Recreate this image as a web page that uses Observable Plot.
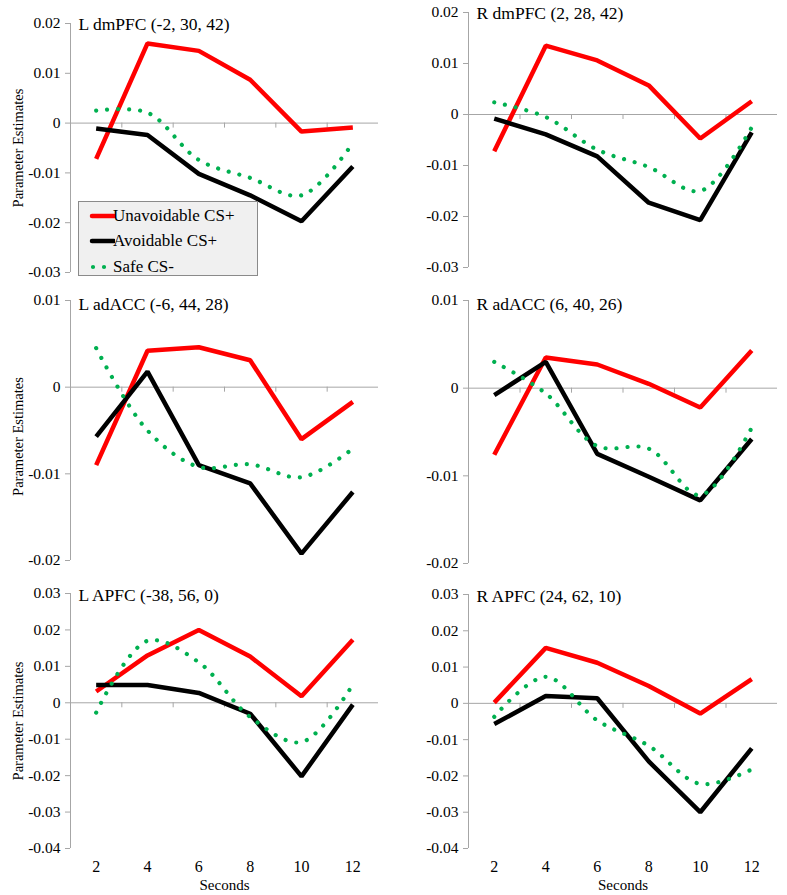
<!DOCTYPE html>
<html>
<head>
<meta charset="utf-8">
<script src="https://cdn.jsdelivr.net/npm/d3@7"></script>
<script src="https://cdn.jsdelivr.net/npm/@observablehq/plot@0.6"></script>
<style>
  html, body { margin: 0; padding: 0; background: #fff; }
  #chart { position: relative; width: 787px; height: 895px; background: #fff; overflow: hidden;
           font-family: "Liberation Serif", "Times New Roman", serif; }
  #chart svg, #chart svg g, #chart svg text { font-family: "Liberation Serif", "Times New Roman", serif !important; }
  .panel { position: absolute; }
  .legend { position: absolute; box-sizing: border-box; background: #f0f0f0; border: 1px solid #8a8a8a; z-index: 5; }
  .legend .row { position: absolute; left: 0; height: 20px; width: 100%; }
  .legend .row span { position: absolute; left: 34px; top: 0; line-height: 20px; font-size: 17px; color: #000; white-space: nowrap; }
  .legend .row svg { position: absolute; left: 0; top: 0; }
</style>
</head>
<body>
<div id="chart"></div>
<script>
// ---- data ----
const seconds = [2, 4, 6, 8, 10, 12];
const seriesNames = ["Unavoidable CS+", "Avoidable CS+", "Safe CS-"];
const seriesColors = ["#ff0000", "#000000", "#00b050"];
const categoryBoundaries = [3, 5, 7, 9, 11];

const LdmPFC_unavoidable = [-0.0072, 0.0160, 0.0145, 0.0087, -0.0017, -0.0009];
const LdmPFC_avoidable   = [-0.0011, -0.0024, -0.0102, -0.0145, -0.0197, -0.0087];
const LdmPFC_safe        = [0.0025, 0.0021, -0.0074, -0.0110, -0.0145, -0.0040];

const RdmPFC_unavoidable = [-0.0072, 0.0135, 0.0106, 0.0057, -0.0047, 0.0026];
const RdmPFC_avoidable   = [-0.0008, -0.0039, -0.0082, -0.0173, -0.0207, -0.0035];
const RdmPFC_safe        = [0.0024, -0.0005, -0.0069, -0.0103, -0.0150, -0.0025];

const LadACC_unavoidable = [-0.0090, 0.0042, 0.0046, 0.0031, -0.0060, -0.0017];
const LadACC_avoidable   = [-0.0057, 0.0018, -0.0090, -0.0111, -0.0192, -0.0121];
const LadACC_safe        = [0.0045, -0.0050, -0.0092, -0.0089, -0.0104, -0.0071];

const RadACC_unavoidable = [-0.0076, 0.0035, 0.0027, 0.0005, -0.0022, 0.0043];
const RadACC_avoidable   = [-0.0008, 0.0030, -0.0075, -0.0101, -0.0128, -0.0058];
const RadACC_safe        = [0.0030, -0.0006, -0.0066, -0.0069, -0.0122, -0.0045];

const LAPFC_unavoidable = [0.0031, 0.0130, 0.0200, 0.0127, 0.0018, 0.0173];
const LAPFC_avoidable   = [0.0049, 0.0049, 0.0027, -0.0030, -0.0202, -0.0005];
const LAPFC_safe        = [-0.0027, 0.0170, 0.0111, -0.0039, -0.0108, 0.0050];

const RAPFC_unavoidable = [0.0002, 0.0153, 0.0112, 0.0048, -0.0028, 0.0067];
const RAPFC_avoidable   = [-0.0057, 0.0020, 0.0014, -0.0160, -0.0300, -0.0124];
const RAPFC_safe        = [-0.0037, 0.0073, -0.0047, -0.0117, -0.0222, -0.0182];

const dmPFC_yTicks = [0.02, 0.01, 0, -0.01, -0.02, -0.03];
const adACC_yTicks = [0.01, 0, -0.01, -0.02];
const APFC_yTicks  = [0.03, 0.02, 0.01, 0, -0.01, -0.02, -0.03, -0.04];

const yLabel = "Parameter Estimates";
const xLabel = "Seconds";

// ---- layout (positions & styles) ----
const axisGray = "#a6a6a6";
const fmt = d => (d === 0 ? "0" : d.toFixed(2));

const panels = [
  {title: "L dmPFC (-2, 30, 42)", series: [LdmPFC_unavoidable, LdmPFC_avoidable, LdmPFC_safe], ticks: dmPFC_yTicks,
   left: 0, top: 0, width: 393, height: 290, mt: 23, mb: 18, ml: 70, mr: 15, ylab: true, xlab: false, titleDy: 1, labDy: 0},
  {title: "R dmPFC (2, 28, 42)", series: [RdmPFC_unavoidable, RdmPFC_avoidable, RdmPFC_safe], ticks: dmPFC_yTicks,
   left: 393, top: 0, width: 394, height: 290, mt: 12, mb: 23, ml: 75, mr: 10, ylab: false, xlab: false, titleDy: 1, labDy: 0},
  {title: "L adACC (-6, 44, 28)", series: [LadACC_unavoidable, LadACC_avoidable, LadACC_safe], ticks: adACC_yTicks,
   left: 0, top: 290, width: 393, height: 290, mt: 10, mb: 20, ml: 70, mr: 15, ylab: true, xlab: false, titleDy: 4, labDy: 6},
  {title: "R adACC (6, 40, 26)", series: [RadACC_unavoidable, RadACC_avoidable, RadACC_safe], ticks: adACC_yTicks,
   left: 393, top: 290, width: 394, height: 290, mt: 10, mb: 17, ml: 75, mr: 10, ylab: false, xlab: false, titleDy: 4, labDy: 0},
  {title: "L APFC (-38, 56, 0)", series: [LAPFC_unavoidable, LAPFC_avoidable, LAPFC_safe], ticks: APFC_yTicks,
   left: 0, top: 580, width: 393, height: 315, mt: 13, mb: 47, ml: 70, mr: 15, ylab: true, xlab: true, titleDy: 2, labDy: 0},
  {title: "R APFC (24, 62, 10)", series: [RAPFC_unavoidable, RAPFC_avoidable, RAPFC_safe], ticks: APFC_yTicks,
   left: 393, top: 580, width: 394, height: 315, mt: 14, mb: 47, ml: 75, mr: 10, ylab: false, xlab: true, titleDy: 2, labDy: 0}
];

const chart = document.getElementById("chart");

for (const p of panels) {
  const [unav, av, safe] = p.series;
  const marks = [
    Plot.ruleX([1], {stroke: axisGray, strokeWidth: 1}),
    Plot.ruleY([0], {stroke: axisGray, strokeWidth: 1}),
    Plot.ruleX(categoryBoundaries, {y1: 0, y2: 0, insetBottom: -5, stroke: axisGray, strokeWidth: 1}),
    Plot.axisY(p.ticks, {tickSize: 5, tickPadding: 5, stroke: axisGray, fill: "#000", tickFormat: fmt, label: null, fontSize: 15.5}),
    Plot.lineY(unav, {x: seconds, stroke: seriesColors[0], strokeWidth: 4.5, strokeLinejoin: "miter", strokeLinecap: "butt"}),
    Plot.lineY(av, {x: seconds, stroke: seriesColors[1], strokeWidth: 4.5, strokeLinejoin: "miter", strokeLinecap: "butt"}),
    Plot.lineY(safe, {x: seconds, stroke: seriesColors[2], strokeWidth: 4.2, curve: "catmull-rom",
                      strokeDasharray: "0.01 11", strokeLinecap: "round"}),
    Plot.text([p.title], {frameAnchor: "top-left", dx: 8, dy: p.titleDy, textAnchor: "start", lineAnchor: "middle",
                          fontSize: 17.5, fill: "#000"})
  ];
  if (p.ylab) {
    marks.push(Plot.text([yLabel], {frameAnchor: "left", rotate: -90, dx: -52, dy: p.labDy, textAnchor: "middle",
                                    lineAnchor: "middle", fontSize: 14.5, fill: "#000"}));
  }
  if (p.xlab) {
    marks.push(Plot.axisX(seconds, {tickSize: 0, tickPadding: 12, label: null, fontSize: 16, fill: "#000"}));
    marks.push(Plot.text([xLabel], {frameAnchor: "bottom", dy: 37, lineAnchor: "middle", fontSize: 15, fill: "#000"}));
  }
  const plot = Plot.plot({
    width: p.width,
    height: p.height,
    marginTop: p.mt,
    marginBottom: p.mb,
    marginLeft: p.ml,
    marginRight: p.mr,
    x: {type: "linear", domain: [1, 13], ...(p.xlab ? {} : {axis: null})},
    y: {domain: [d3.min(p.ticks), d3.max(p.ticks)]},
    style: {fontFamily: "\"Liberation Serif\", serif", fontSize: "15.5px", background: "transparent", overflow: "visible"},
    marks
  });
  plot.classList.add("panel");
  plot.style.left = p.left + "px";
  plot.style.top = p.top + "px";
  plot.style.fontFamily = "\"Liberation Serif\", serif";
  chart.appendChild(plot);
}

// ---- legend (top-left panel) ----
const legend = document.createElement("div");
legend.className = "legend";
Object.assign(legend.style, {left: "78px", top: "201px", width: "180px", height: "75px"});
const rowTops = [4, 29, 55];
seriesNames.forEach((name, i) => {
  const row = document.createElement("div");
  row.className = "row";
  row.style.top = rowTops[i] + "px";
  const svg = d3.create("svg").attr("width", 36).attr("height", 20);
  if (i < 2) {
    svg.append("line").attr("x1", 13).attr("x2", 35).attr("y1", 10).attr("y2", 10)
      .attr("stroke", seriesColors[i]).attr("stroke-width", 4.5).attr("stroke-linecap", "round");
  } else {
    svg.append("line").attr("x1", 14).attr("x2", 26).attr("y1", 10).attr("y2", 10)
      .attr("stroke", seriesColors[i]).attr("stroke-width", 4.2).attr("stroke-linecap", "round")
      .attr("stroke-dasharray", "0.01 11");
  }
  row.appendChild(svg.node());
  const span = document.createElement("span");
  span.textContent = name;
  row.appendChild(span);
  legend.appendChild(row);
});
chart.appendChild(legend);
</script>
</body>
</html>
